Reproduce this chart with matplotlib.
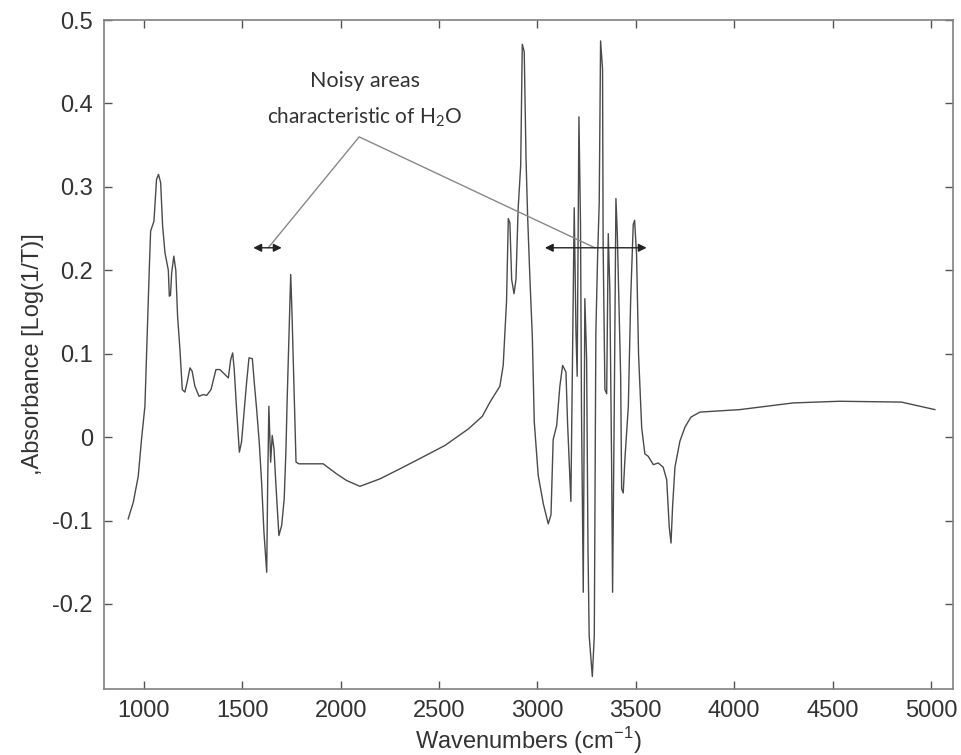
import matplotlib
matplotlib.use('Agg')
import matplotlib.pyplot as plt

# spectrum: wavenumber (cm-1) and absorbance
wavenumbers = [
    920, 946, 971, 988, 1005, 1014, 1027, 1034, 1051, 1064, 1074, 1085,
    1095, 1107, 1124, 1129, 1135, 1141, 1152, 1162, 1171, 1183, 1195, 1208,
    1220, 1234, 1245, 1259, 1280, 1302, 1319, 1341, 1366, 1386, 1412, 1429,
    1441, 1451, 1459, 1471, 1485, 1496, 1510, 1522, 1534, 1551, 1561, 1573,
    1586, 1598, 1610, 1624, 1629, 1635, 1644, 1652, 1661, 1671, 1686, 1700,
    1713, 1722, 1728, 1739, 1746, 1752, 1762, 1773, 1788, 1911, 1979, 2030,
    2098, 2200, 2301, 2400, 2530, 2650, 2720, 2759, 2809, 2826, 2843, 2852,
    2860, 2869, 2881, 2891, 2902, 2915, 2923, 2933, 2942, 2950, 2962, 2974,
    2984, 3004, 3030, 3055, 3069, 3080, 3098, 3114, 3128, 3145, 3153, 3162,
    3170, 3182, 3187, 3196, 3202, 3211, 3219, 3224, 3233, 3241, 3250, 3257,
    3263, 3279, 3289, 3297, 3306, 3314, 3321, 3331, 3334, 3343, 3352, 3360,
    3368, 3377, 3382, 3390, 3399, 3406, 3414, 3423, 3428, 3436, 3445, 3462,
    3474, 3487, 3494, 3504, 3514, 3530, 3546, 3563, 3589, 3614, 3639, 3657,
    3670, 3679, 3687, 3699, 3724, 3750, 3780, 3826, 4029, 4300, 4537, 4850,
    5020]

absorbance = [
    -0.098, -0.078, -0.047, -0.002, 0.037, 0.105, 0.200, 0.247, 0.259, 0.309, 0.315, 0.305,
    0.253, 0.221, 0.200, 0.169, 0.170, 0.197, 0.217, 0.200, 0.145, 0.105, 0.057, 0.054,
    0.066, 0.083, 0.079, 0.061, 0.049, 0.051, 0.050, 0.057, 0.081, 0.081, 0.075, 0.071,
    0.093, 0.101, 0.081, 0.033, -0.018, -0.006, 0.033, 0.066, 0.095, 0.094, 0.065, 0.033,
    -0.006, -0.054, -0.114, -0.162, -0.054, 0.037, -0.030, 0.002, -0.014, -0.058, -0.118, -0.106,
    -0.074, -0.014, 0.045, 0.137, 0.195, 0.153, 0.065, -0.030, -0.032, -0.032, -0.044, -0.052,
    -0.059, -0.050, -0.038, -0.026, -0.010, 0.010, 0.025, 0.042, 0.061, 0.086, 0.163, 0.262,
    0.257, 0.189, 0.172, 0.189, 0.274, 0.326, 0.471, 0.462, 0.334, 0.266, 0.189, 0.121,
    0.018, -0.046, -0.080, -0.104, -0.093, -0.003, 0.014, 0.061, 0.086, 0.078, 0.018, -0.031,
    -0.077, 0.166, 0.275, 0.125, 0.073, 0.384, 0.255, 0.032, -0.186, 0.166, 0.094, -0.134,
    -0.238, -0.287, -0.238, 0.125, 0.218, 0.280, 0.475, 0.441, 0.229, 0.057, 0.052, 0.244,
    0.177, -0.031, -0.186, 0.021, 0.286, 0.244, 0.166, 0.073, -0.062, -0.067, -0.025, 0.037,
    0.166, 0.255, 0.260, 0.218, 0.099, 0.011, -0.020, -0.023, -0.033, -0.031, -0.036, -0.051,
    -0.108, -0.127, -0.083, -0.036, -0.005, 0.012, 0.024, 0.030, 0.033, 0.041, 0.043, 0.042,
    0.033]

x_ticks = [1000, 1500, 2000, 2500, 3000, 3500, 4000, 4500, 5000]
y_ticks = [-0.2, -0.1, 0, 0.1, 0.2, 0.3, 0.4, 0.5]
y_tick_labels = ['-0.2', '-0.1', '0', '0.1', '0.2', '0.3', '0.4', '0.5']

# annotation: two double arrows and the label joined to them
left_arrow = (1556, 1700)
right_arrow = (3038, 3555)
arrow_level = 0.227
apex = (2094, 0.360)
left_end = 1632
right_end = 3292

plt.rcParams['font.family'] = ['Liberation Sans', 'DejaVu Sans']
plt.rcParams['axes.unicode_minus'] = False

fig = plt.figure(figsize=(9.62, 7.55), dpi=100)
ax = fig.add_axes([0.1081, 0.0874, 0.8825, 0.886])

ax.plot(wavenumbers, absorbance, color='#4a4a4a', linewidth=1.0)

ax.set_xlim(797, 5112)
ax.set_ylim(-0.302, 0.5)
ax.set_xticks(x_ticks)
ax.set_yticks(y_ticks)
ax.set_yticklabels(y_tick_labels)
ax.tick_params(direction='in', top=True, right=True, length=6, width=1,
               color='#555555', labelsize=17, labelcolor='#333333', pad=8)
for s in ax.spines.values():
    s.set_color('#808080')
    s.set_linewidth(1.2)

ax.set_xlabel('Wavenumbers (cm$^{\\mathregular{-1}}$)', fontsize=17,
              color='#333333', labelpad=2)
ax.set_ylabel(',Absorbance [Log(1/T)]', fontsize=17, color='#333333',
              labelpad=6)

# arrows
for a, b in (left_arrow, right_arrow):
    ax.annotate('', xy=(a, arrow_level), xytext=(b, arrow_level),
                arrowprops=dict(arrowstyle='<|-|>', color='#222222', lw=1.0,
                                mutation_scale=12, shrinkA=0, shrinkB=0))
# lines to the label
ax.plot([left_end, apex[0], right_end], [arrow_level, apex[1], arrow_level],
        color='#888888', linewidth=1.0)

ax.text(2123, 0.427, 'Noisy areas', ha='center', va='center',
        fontsize=15.5, color='#333333', family=['Lato', 'DejaVu Sans'])
ax.text(2123, 0.383, 'characteristic of H$_\\mathregular{2}$O', ha='center',
        va='center', fontsize=15, color='#333333', family=['Lato', 'DejaVu Sans'])

fig.savefig('out.png', dpi=100)
